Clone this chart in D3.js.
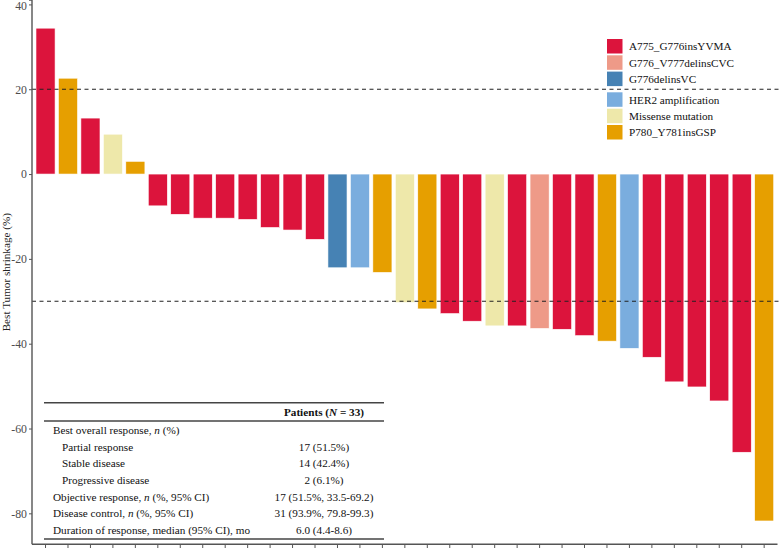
<!DOCTYPE html>
<html><head><meta charset="utf-8">
<script src="https://cdn.jsdelivr.net/npm/d3@7"></script>
<style>body{margin:0;background:#fff}svg{display:block}text{font-family:"Liberation Serif","Times New Roman",serif}</style>
</head><body><svg id="c" width="779" height="548"></svg>
<script>
const mutations = ["A775_G776insYVMA","G776_V777delinsCVC","G776delinsVC","HER2 amplification","Missense mutation","P780_Y781insGSP"];
const mutationColors = ["#DC143C","#EE9A88","#4682B4","#7AADDE","#EEE8AA","#E69F00"];
const patientMutation = ["A775_G776insYVMA","P780_Y781insGSP","A775_G776insYVMA","Missense mutation","P780_Y781insGSP",
 "A775_G776insYVMA","A775_G776insYVMA","A775_G776insYVMA","A775_G776insYVMA","A775_G776insYVMA","A775_G776insYVMA","A775_G776insYVMA","A775_G776insYVMA",
 "G776delinsVC","HER2 amplification","P780_Y781insGSP","Missense mutation","P780_Y781insGSP","A775_G776insYVMA","A775_G776insYVMA","Missense mutation","A775_G776insYVMA","G776_V777delinsCVC","A775_G776insYVMA","A775_G776insYVMA","P780_Y781insGSP","HER2 amplification",
 "A775_G776insYVMA","A775_G776insYVMA","A775_G776insYVMA","A775_G776insYVMA","A775_G776insYVMA","P780_Y781insGSP"];
const shrinkage = [34.4,22.6,13.2,9.4,3.0,-7.5,-9.5,-10.4,-10.4,-10.7,-12.6,-13.2,-15.4,-22.1,-22.1,-23.2,-30.3,-31.8,-32.9,-34.7,-35.8,-35.8,-36.4,-36.6,-38.1,-39.4,-41.1,-43.2,-49.0,-50.2,-53.5,-65.6,-81.8];
const yTicks = [40,20,0,-20,-40,-60,-80];
const thresholds = [20,-30];
const tableHeader = "Patients";
const tableRows = [
 ["Best overall response, |n| (%)", "", 0],
 ["Partial response", "17 (51.5%)", 1],
 ["Stable disease", "14 (42.4%)", 1],
 ["Progressive disease", "2 (6.1%)", 1],
 ["Objective response, |n| (%, 95% CI)", "17 (51.5%, 33.5-69.2)", 0],
 ["Disease control, |n| (%, 95% CI)", "31 (93.9%, 79.8-99.3)", 0],
 ["Duration of response, median (95% CI), mo", "6.0 (4.4-8.6)", 0]
];

const FS = "11.2px";
const svg = d3.select("#c");
const axisX = 32, axisBottom = 544.3;
const x = d3.scaleBand().domain(d3.range(shrinkage.length)).range([34.3, 775.4]).paddingInner(0.15).paddingOuter(0.075);
const y = d3.scaleLinear().domain([-87.3, 41.04]).range([axisBottom, 0]);
const color = d3.scaleOrdinal().domain(mutations).range(mutationColors);

// bars
svg.append("g").selectAll("rect").data(shrinkage).join("rect")
  .attr("x", (d,i)=>x(i)).attr("width", x.bandwidth())
  .attr("y", d=>y(Math.max(0,d))).attr("height", d=>Math.abs(y(d)-y(0)))
  .attr("fill", (d,i)=>color(patientMutation[i])).attr("stroke","#fff").attr("stroke-width",0.6);

// threshold lines
svg.append("g").selectAll("line").data(thresholds).join("line")
  .attr("x1", axisX).attr("x2", 779).attr("y1", d=>y(d)).attr("y2", d=>y(d))
  .attr("stroke","#222").attr("stroke-width",1.1).attr("stroke-dasharray","4,3.5");

// y axis
const gy = svg.append("g").attr("transform",`translate(${axisX},0)`)
  .call(d3.axisLeft(y).tickValues(yTicks).tickSize(3).tickPadding(2).tickFormat(d=>String(d)));
gy.select(".domain").attr("stroke","#555").attr("stroke-width",1.4).attr("d",`M-3,0H0V${axisBottom}`);
gy.selectAll(".tick line").attr("stroke","#555").attr("stroke-width",1);
gy.selectAll(".tick text").attr("fill","#4d4d4d").style("font-size","11.8px").style("font-family","Liberation Serif")
  .attr("dy", d => d === yTicks[0] ? "0.45em" : "0.32em");

// x axis
const gx = svg.append("g").attr("transform",`translate(0,${axisBottom})`)
  .call(d3.axisBottom(x).tickSize(4).tickFormat(""));
gx.select(".domain").attr("stroke","#555").attr("stroke-width",1.4).attr("d",`M${axisX},0H777.5`);
gx.selectAll(".tick line").attr("stroke","#555").attr("stroke-width",1);

// y title
svg.append("text").attr("transform",`translate(10,${axisBottom/2}) rotate(-90)`)
  .attr("text-anchor","middle").style("font-size",FS).attr("fill","#222").text("Best Tumor shrinkage (%)");

// legend
const legY = [39,55.3,71.6,92.3,108.7,125];
const leg = svg.append("g").selectAll("g").data(mutations).join("g")
  .attr("transform",(d,i)=>`translate(607,${legY[i]})`);
leg.append("rect").attr("width",15.5).attr("height",14.5).attr("fill",d=>color(d));
leg.append("text").attr("x",22).attr("y",7.5).attr("dy","0.35em").style("font-size",FS).attr("fill","#111").text(d=>d);

// table
const tL = 44, tR = 384, valX = 324;
const tg = svg.append("g");
[402.7, 421, 539].forEach(yy=>tg.append("line").attr("x1",tL).attr("x2",tR).attr("y1",yy).attr("y2",yy).attr("stroke","#444").attr("stroke-width",1.5));
const hdr = tg.append("text").attr("x",valX).attr("y",416).attr("text-anchor","middle").style("font-size",FS).style("font-weight","bold").attr("fill","#111");
hdr.append("tspan").text(tableHeader+" (");
hdr.append("tspan").style("font-style","italic").text("N");
hdr.append("tspan").text(" = 33)");
tableRows.forEach((r,i)=>{
  const by = 434 + i*16.65;
  const t = tg.append("text").attr("x", r[2] ? 62 : 53).attr("y",by).style("font-size",FS).attr("fill","#111");
  r[0].split("|").forEach((p,j)=>t.append("tspan").style("font-style", j%2 ? "italic":"normal").text(p));
  if (r[1]) tg.append("text").attr("x",valX).attr("y",by).attr("text-anchor","middle").style("font-size",FS).attr("fill","#111").text(r[1]);
});
</script></body></html>
